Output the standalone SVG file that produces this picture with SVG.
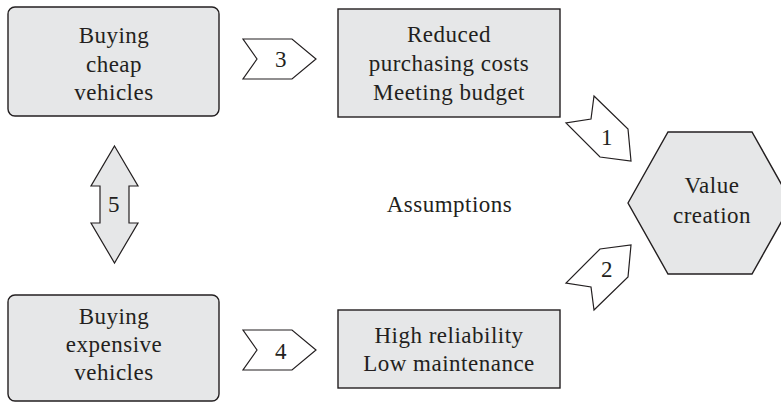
<svg xmlns="http://www.w3.org/2000/svg" width="781" height="402" viewBox="0 0 781 402">
  <style>
    .box { fill: #e6e7e8; stroke: #231f20; stroke-width: 1.4; }
    .arrow { fill: #ffffff; stroke: #231f20; stroke-width: 1.2; stroke-linejoin: miter; }
    .arrow-fill { fill: #e6e7e8; stroke: #231f20; stroke-width: 1.2; }
    text { font-family: "Liberation Serif", "Times New Roman", serif; font-size: 23px; fill: #231f20; text-anchor: middle; letter-spacing: 0.5px; }
  </style>
  <rect width="781" height="402" fill="#ffffff"/>

  <!-- option nodes -->
  <g id="cheap">
    <rect class="box" x="8" y="7" width="211" height="109" rx="7"/>
    <text x="114" y="43">Buying</text>
    <text x="114" y="72">cheap</text>
    <text x="114" y="100">vehicles</text>
  </g>
  <g id="expensive">
    <rect class="box" x="8" y="295" width="211" height="106" rx="7"/>
    <text x="114" y="324">Buying</text>
    <text x="114" y="352">expensive</text>
    <text x="114" y="380">vehicles</text>
  </g>

  <!-- outcome nodes -->
  <g id="reduced">
    <rect class="box" x="338" y="9" width="222" height="108"/>
    <text x="449" y="42">Reduced</text>
    <text x="449" y="71">purchasing costs</text>
    <text x="449" y="100">Meeting budget</text>
  </g>
  <g id="reliability">
    <rect class="box" x="338" y="310" width="222" height="78"/>
    <text x="449" y="343">High reliability</text>
    <text x="449" y="371">Low maintenance</text>
  </g>

  <g id="assumptions">
    <text x="449.5" y="212">Assumptions</text>
  </g>

  <!-- goal -->
  <g id="value">
    <polygon class="box" points="628,203 668,132 752,132 792,203 752,274 668,274"/>
    <text x="712" y="193">Value</text>
    <text x="712" y="223">creation</text>
  </g>

  <!-- connectors -->
  <g id="connectors">
    <g id="c3">
      <polygon class="arrow" points="243,39 292,39 316,59 292,79 243,79 257,59"/>
      <text x="281" y="67">3</text>
    </g>
    <g id="c4">
      <polygon class="arrow" points="243,330 292,330 316,350 292,370 243,370 257,350"/>
      <text x="281" y="359">4</text>
    </g>
    <g id="c1">
      <polygon class="arrow" points="594,96 628,129 631,161 600,157 566,123 591,119"/>
      <text x="607" y="145">1</text>
    </g>
    <g id="c2">
      <polygon class="arrow" points="594,310 628,277 631,245 600,249 566,283 591,287"/>
      <text x="607" y="277">2</text>
    </g>
    <g id="c5">
      <polygon class="arrow-fill" points="114.5,146 138,186 129,186 129,223 138,223 114.5,263 91,223 100,223 100,186 91,186"/>
      <text x="114" y="212">5</text>
    </g>
  </g>
</svg>
